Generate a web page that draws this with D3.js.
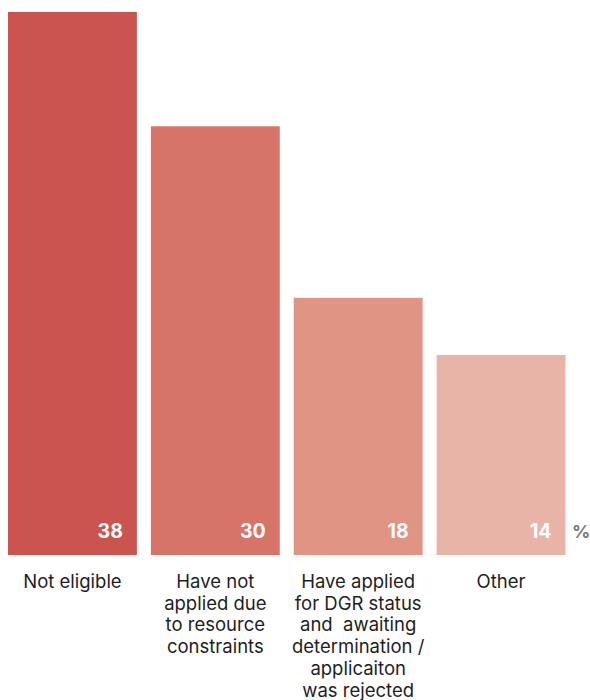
<!DOCTYPE html>
<html>
<head>
<meta charset="utf-8">
<script src="https://cdn.jsdelivr.net/npm/d3@7"></script>
<style>
  html, body { margin: 0; padding: 0; background: #fff; }
  svg { display: block; }
</style>
</head>
<body>
<svg id="chart" width="590" height="700"></svg>
<script>
// Reasons for not holding DGR status (% of respondents)
const categories = [
  ["Not eligible"],
  ["Have not", "applied due", "to resource", "constraints"],
  ["Have applied", "for DGR status", "and  awaiting", "determination /", "applicaiton", "was rejected"],
  ["Other"]
];
const values = [38, 30, 18, 14];
const colors = ["#cc544f", "#d67468", "#e09484", "#e8b4a8"];
const unitLabel = "%";

const svg = d3.select("#chart");
const baseline = 555;
const font = "Inter, sans-serif";

const x = d3.scaleBand()
  .domain(d3.range(values.length))
  .range([8, 565.5])
  .paddingInner(14 / 143)
  .paddingOuter(0);

const y = d3.scaleLinear()
  .domain([0, d3.max(values)])
  .range([baseline, 12]);

// Bars
svg.selectAll("rect.bar")
  .data(values)
  .join("rect")
  .attr("class", "bar")
  .attr("x", (d, i) => x(i))
  .attr("y", d => y(d))
  .attr("width", x.bandwidth())
  .attr("height", d => y(0) - y(d))
  .attr("fill", (d, i) => colors[i]);

// Value labels inside the bars, at the bottom right
svg.selectAll("text.value")
  .data(values)
  .join("text")
  .attr("class", "value")
  .attr("x", (d, i) => x(i) + x.bandwidth() - 14)
  .attr("y", baseline - 17)
  .attr("text-anchor", "end")
  .attr("font-family", font)
  .attr("font-weight", 700)
  .attr("font-size", 19.5)
  .attr("fill", "#ffffff")
  .text(d => d);

// Unit marker to the right of the last bar
svg.append("text")
  .attr("x", 572)
  .attr("y", baseline - 17)
  .attr("font-family", font)
  .attr("font-weight", 700)
  .attr("font-size", 18)
  .attr("fill", "#777777")
  .text(unitLabel);

// Category labels, centred under each bar
const labels = svg.selectAll("text.cat")
  .data(categories)
  .join("text")
  .attr("class", "cat")
  .attr("x", (d, i) => x(i) + x.bandwidth() / 2)
  .attr("y", 588)
  .attr("text-anchor", "middle")
  .attr("font-family", font)
  .attr("font-weight", 400)
  .attr("font-size", 18.5)
  .attr("fill", "#1e1e1e")
  .style("white-space", "pre");

labels.selectAll("tspan")
  .data(d => d)
  .join("tspan")
  .attr("x", function () { return d3.select(this.parentNode).attr("x"); })
  .attr("dy", (d, j) => j === 0 ? 0 : 21.7)
  .text(d => d);
</script>
</body>
</html>
